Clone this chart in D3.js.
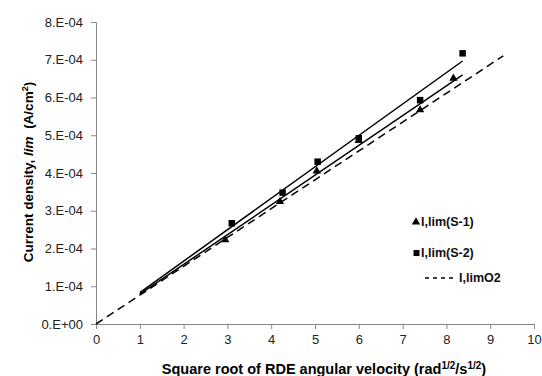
<!DOCTYPE html>
<html>
<head>
<meta charset="utf-8">
<script src="https://cdn.jsdelivr.net/npm/d3@7"></script>
<style>
body{margin:0;background:#fff;}
text{font-family:"Liberation Sans",Arial,sans-serif;}
</style>
</head>
<body>
<svg id="chart" width="542" height="376"></svg>
<script>
// data
var xS1 = [2.95, 4.2, 5.04, 6.0, 7.4, 8.16];
var yS1 = [2.23e-4, 3.24e-4, 4.05e-4, 4.86e-4, 5.67e-4, 6.51e-4];
var xS2 = [3.1, 4.26, 5.06, 6.0, 7.4, 8.37];
var yS2 = [2.67e-4, 3.48e-4, 4.30e-4, 4.92e-4, 5.93e-4, 7.17e-4];
var trendRange = [1, 8.37];
var o2Range = [0, 9.3];
var o2Slope = 7.64e-5;
var xTicks = [0,1,2,3,4,5,6,7,8,9,10];
var yTicks = [0,1e-4,2e-4,3e-4,4e-4,5e-4,6e-4,7e-4,8e-4];
var legendLabels = ["I,lim(S-1)", "I,lim(S-2)", "I,limO2"];

var svg = d3.select("#chart");
var x = d3.scaleLinear().domain([0,10]).range([96,534]);
var y = d3.scaleLinear().domain([0,8e-4]).range([324,22]);

function fmtY(v){
  if(v===0) return "0.E+00";
  return Math.round(v*1e4)+".E-04";
}

// axes
var xa = svg.append("g").attr("transform","translate(0,324)")
  .call(d3.axisBottom(x).tickValues(xTicks).tickSize(5).tickSizeOuter(0).tickPadding(6));
var ya = svg.append("g").attr("transform","translate(96,0)")
  .call(d3.axisLeft(y).tickValues(yTicks).tickFormat(fmtY).tickSize(5).tickSizeOuter(0).tickPadding(8));
svg.selectAll(".domain, .tick line").attr("stroke","#868686");
svg.selectAll(".tick text").attr("font-size","13px").attr("fill","#222")
  .attr("font-family","Liberation Sans, Arial, sans-serif");

// trend line through origin (least squares)
function slopeOf(xs, ys){
  return d3.sum(xs, function(d,i){return d*ys[i];}) / d3.sum(xs, function(d){return d*d;});
}
var line = d3.line().x(function(d){return x(d[0]);}).y(function(d){return y(d[1]);});
var k1 = slopeOf(xS1,yS1), k2 = slopeOf(xS2,yS2);

svg.append("path").datum(o2Range.map(function(v){return [v, v*o2Slope];}))
  .attr("d",line).attr("stroke","#000").attr("stroke-width",1.5)
  .attr("stroke-dasharray","8,5").attr("fill","none");
[k1,k2].forEach(function(k){
  svg.append("path").datum(trendRange.map(function(v){return [v, v*k];}))
    .attr("d",line).attr("stroke","#000").attr("stroke-width",1.5).attr("fill","none");
});

var tri = d3.symbol().type(d3.symbolTriangle).size(30);
var sq = d3.symbol().type(d3.symbolSquare).size(42);
svg.selectAll(".s1").data(xS1).enter().append("path")
  .attr("d",tri).attr("fill","#000")
  .attr("transform",function(d,i){return "translate("+x(d)+","+y(yS1[i])+")";});
svg.selectAll(".s2").data(xS2).enter().append("path")
  .attr("d",sq).attr("fill","#000")
  .attr("transform",function(d,i){return "translate("+x(d)+","+y(yS2[i])+")";});

// legend
var lg = svg.append("g");
lg.append("path").attr("d",tri).attr("transform","translate(416,222)");
lg.append("path").attr("d",d3.symbol().type(d3.symbolSquare).size(36)).attr("transform","translate(416.5,253)");
lg.append("line").attr("x1",425).attr("x2",455).attr("y1",278).attr("y2",278)
  .attr("stroke","#000").attr("stroke-width",1.5).attr("stroke-dasharray","4,4");
lg.selectAll("text").data(legendLabels).enter().append("text")
  .attr("x",function(d,i){return i<2?421:459;})
  .attr("y",function(d,i){return [226,257,282][i];})
  .attr("font-size","12.5px").attr("font-weight","bold").attr("fill","#111")
  .text(function(d){return d;});

// axis titles
var xt = svg.append("text").attr("x",324).attr("y",374).attr("text-anchor","middle")
  .attr("font-size","14.5px").attr("font-weight","bold");
xt.append("tspan").text("Square root of RDE angular velocity (rad");
xt.append("tspan").attr("dy",-5).attr("font-size","10px").text("1/2");
xt.append("tspan").attr("dy",5).text("/s");
xt.append("tspan").attr("dy",-5).attr("font-size","10px").text("1/2");
xt.append("tspan").attr("dy",5).text(")");

var yt = svg.append("text").attr("transform","translate(33,172) rotate(-90)")
  .attr("text-anchor","middle").attr("font-size","13.5px").attr("font-weight","bold");
yt.append("tspan").text("Current density, ");
yt.append("tspan").attr("font-style","italic").text("lim");
yt.append("tspan").attr("xml:space","preserve").text("  (A/cm");
yt.append("tspan").attr("dy",-5).attr("font-size","9px").text("2");
yt.append("tspan").attr("dy",5).text(")");
</script>
</body>
</html>
